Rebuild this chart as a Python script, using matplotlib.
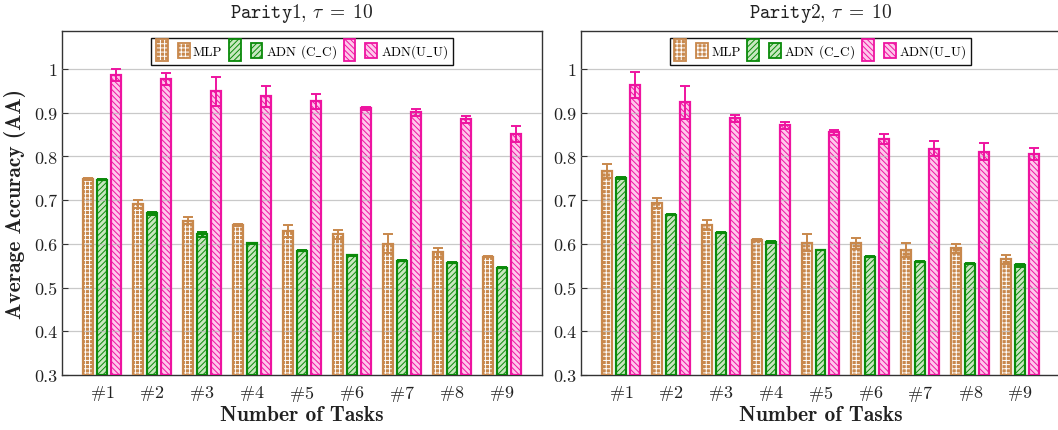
import numpy as np
import matplotlib
matplotlib.use("Agg")
import matplotlib.pyplot as plt
from matplotlib.patches import Rectangle
from matplotlib.legend_handler import HandlerBase

plt.rcParams['mathtext.fontset'] = 'cm'
plt.rcParams['font.family'] = ['cmr10', 'DejaVu Serif']
plt.rcParams['axes.unicode_minus'] = False
plt.rcParams['hatch.linewidth'] = 0.7

# ---------------- data ----------------
tasks = ['#1', '#2', '#3', '#4', '#5', '#6', '#7', '#8', '#9']
series_names = ['MLP', 'ADN (C_C)', 'ADN(U_U)']

p1_mlp = [0.748, 0.692, 0.653, 0.644, 0.630, 0.622, 0.600, 0.581, 0.571]
p1_mlp_err = [0.002, 0.009, 0.008, 0.002, 0.014, 0.010, 0.022, 0.010, 0.002]
p1_cc = [0.747, 0.670, 0.622, 0.601, 0.584, 0.574, 0.561, 0.557, 0.545]
p1_cc_err = [0.002, 0.004, 0.006, 0.001, 0.001, 0.001, 0.001, 0.001, 0.001]
p1_uu = [0.986, 0.977, 0.949, 0.938, 0.926, 0.910, 0.901, 0.885, 0.851]
p1_uu_err = [0.014, 0.013, 0.033, 0.024, 0.018, 0.004, 0.008, 0.008, 0.019]

p2_mlp = [0.766, 0.693, 0.643, 0.609, 0.603, 0.601, 0.586, 0.590, 0.565]
p2_mlp_err = [0.016, 0.011, 0.012, 0.002, 0.020, 0.012, 0.015, 0.010, 0.010]
p2_cc = [0.750, 0.667, 0.626, 0.604, 0.586, 0.571, 0.559, 0.555, 0.551]
p2_cc_err = [0.002, 0.001, 0.001, 0.002, 0.001, 0.001, 0.001, 0.002, 0.004]
p2_uu = [0.964, 0.924, 0.887, 0.871, 0.855, 0.840, 0.818, 0.811, 0.805]
p2_uu_err = [0.030, 0.038, 0.008, 0.008, 0.005, 0.012, 0.017, 0.020, 0.014]

yticks = [0.3, 0.4, 0.5, 0.6, 0.7, 0.8, 0.9, 1.0]
ytick_labels = ['0.3', '0.4', '0.5', '0.6', '0.7', '0.8', '0.9', '1']

# ---------------- styles ----------------
brown = '#C8884C'
green = '#0A8A0A'
magenta = '#EE14A0'
styles = [
    dict(face=brown, hatchc='white', edge=brown, hatch='++++', ecol=brown),
    dict(face='#C8E8C0', hatchc=green, edge=green, hatch='//////', ecol=green),
    dict(face='#FFC8EC', hatchc=magenta, edge=magenta, hatch='\\\\\\\\\\\\', ecol=magenta),
]

W = 1058 / 100
H = 431 / 100
fig = plt.figure(figsize=(W, H), dpi=100)

def fx(px):
    return px / 1058

def fy(py):
    return 1 - py / 431

ax1 = fig.add_axes([fx(62), fy(376), fx(542 - 62), fy(32) - fy(376)])
ax2 = fig.add_axes([fx(581), fy(376), fx(1060 - 581), fy(32) - fy(376)])


class HBar(HandlerBase):
    def __init__(self, st, hpx):
        super().__init__()
        self.st = st
        self.hpx = hpx

    def create_artists(self, legend, orig_handle, xdescent, ydescent,
                       width, height, fontsize, trans):
        h = self.hpx * 72.0 / 100.0
        y0 = -ydescent + (height - h) / 2
        st = self.st
        r1 = Rectangle((-xdescent, y0), width, h, facecolor=st['face'],
                       edgecolor=st['hatchc'], hatch=st['hatch'], lw=0,
                       transform=trans)
        r2 = Rectangle((-xdescent, y0), width, h, fill=False,
                       edgecolor=st['edge'], lw=1.3, transform=trans)
        return [r1, r2]


def panel(ax, data, errs, title, ylabel):
    x = np.arange(1, len(tasks) + 1)
    bw = 0.2
    offs = [-0.28, 0.0, 0.28]
    for vals, err, st, off in zip(data, errs, styles, offs):
        xs = x + off
        heights = np.array(vals) - 0.3
        ax.bar(xs, heights, bw, bottom=0.3, facecolor=st['face'],
               edgecolor=st['hatchc'], hatch=st['hatch'], lw=0, zorder=2)
        ax.bar(xs, heights, bw, bottom=0.3, fill=False,
               edgecolor=st['edge'], lw=1.6, zorder=3)
        ax.errorbar(xs, vals, yerr=err, fmt='none', ecolor=st['ecol'],
                    elinewidth=1.4, capsize=3.5, capthick=1.4, zorder=4)
    ax.set_xlim(0.2, 9.8)
    ax.set_ylim(0.3, 1.087)
    ax.set_yticks(yticks)
    ax.set_yticklabels(ytick_labels)
    ax.set_xticks(x)
    ax.set_xticklabels([r'$\#%s$' % t[1:] for t in tasks])
    ax.yaxis.grid(True, color='#b8b8b8', lw=0.9, zorder=5, alpha=0.75)
    ax.set_axisbelow(False)
    ax.tick_params(axis='both', labelsize=13, direction='in', length=4,
                   width=0.8, colors='#333333', labelcolor='#222222')
    ax.tick_params(axis='x', length=0, pad=6)
    for s in ax.spines.values():
        s.set_color('#333333')
        s.set_linewidth(1.0)
    ax.set_title(r'$\mathtt{%s}$, $\tau\;=\;10$' % title, fontsize=14, pad=10,
                 color='#222222')
    ax.set_xlabel('Number of Tasks', fontsize=15.5, family='cmb10',
                  labelpad=1, color='#222222')
    if ylabel:
        ax.set_ylabel('Average Accuracy (AA)', fontsize=15.5, family='cmb10',
                      labelpad=6, color='#222222')

    hs = []
    hmap = {}
    labels = []
    for st, name in zip(styles, series_names):
        h1 = Rectangle((0, 0), 1, 1)
        h2 = Rectangle((0, 0), 1, 1)
        hmap[h1] = HBar(st, 22)
        hmap[h2] = HBar(st, 15)
        hs += [h1, h2]
        labels += ['', name.replace('_', r'$\_$')]
    leg = ax.legend(hs, labels, handler_map=hmap, ncol=6, loc='upper center',
                    bbox_to_anchor=(0.5, 0.98), borderaxespad=0,
                    fontsize=9.5, frameon=True,
                    fancybox=False, edgecolor='#111111', framealpha=1,
                    handlelength=0.9, handleheight=1.3, handletextpad=0.25,
                    columnspacing=0.5, borderpad=0.35)
    leg.get_frame().set_linewidth(1.0)
    leg.set_zorder(10)


panel(ax1, [p1_mlp, p1_cc, p1_uu], [p1_mlp_err, p1_cc_err, p1_uu_err],
      'Parity1', True)
panel(ax2, [p2_mlp, p2_cc, p2_uu], [p2_mlp_err, p2_cc_err, p2_uu_err],
      'Parity2', False)

fig.savefig('out.png', dpi=100)
